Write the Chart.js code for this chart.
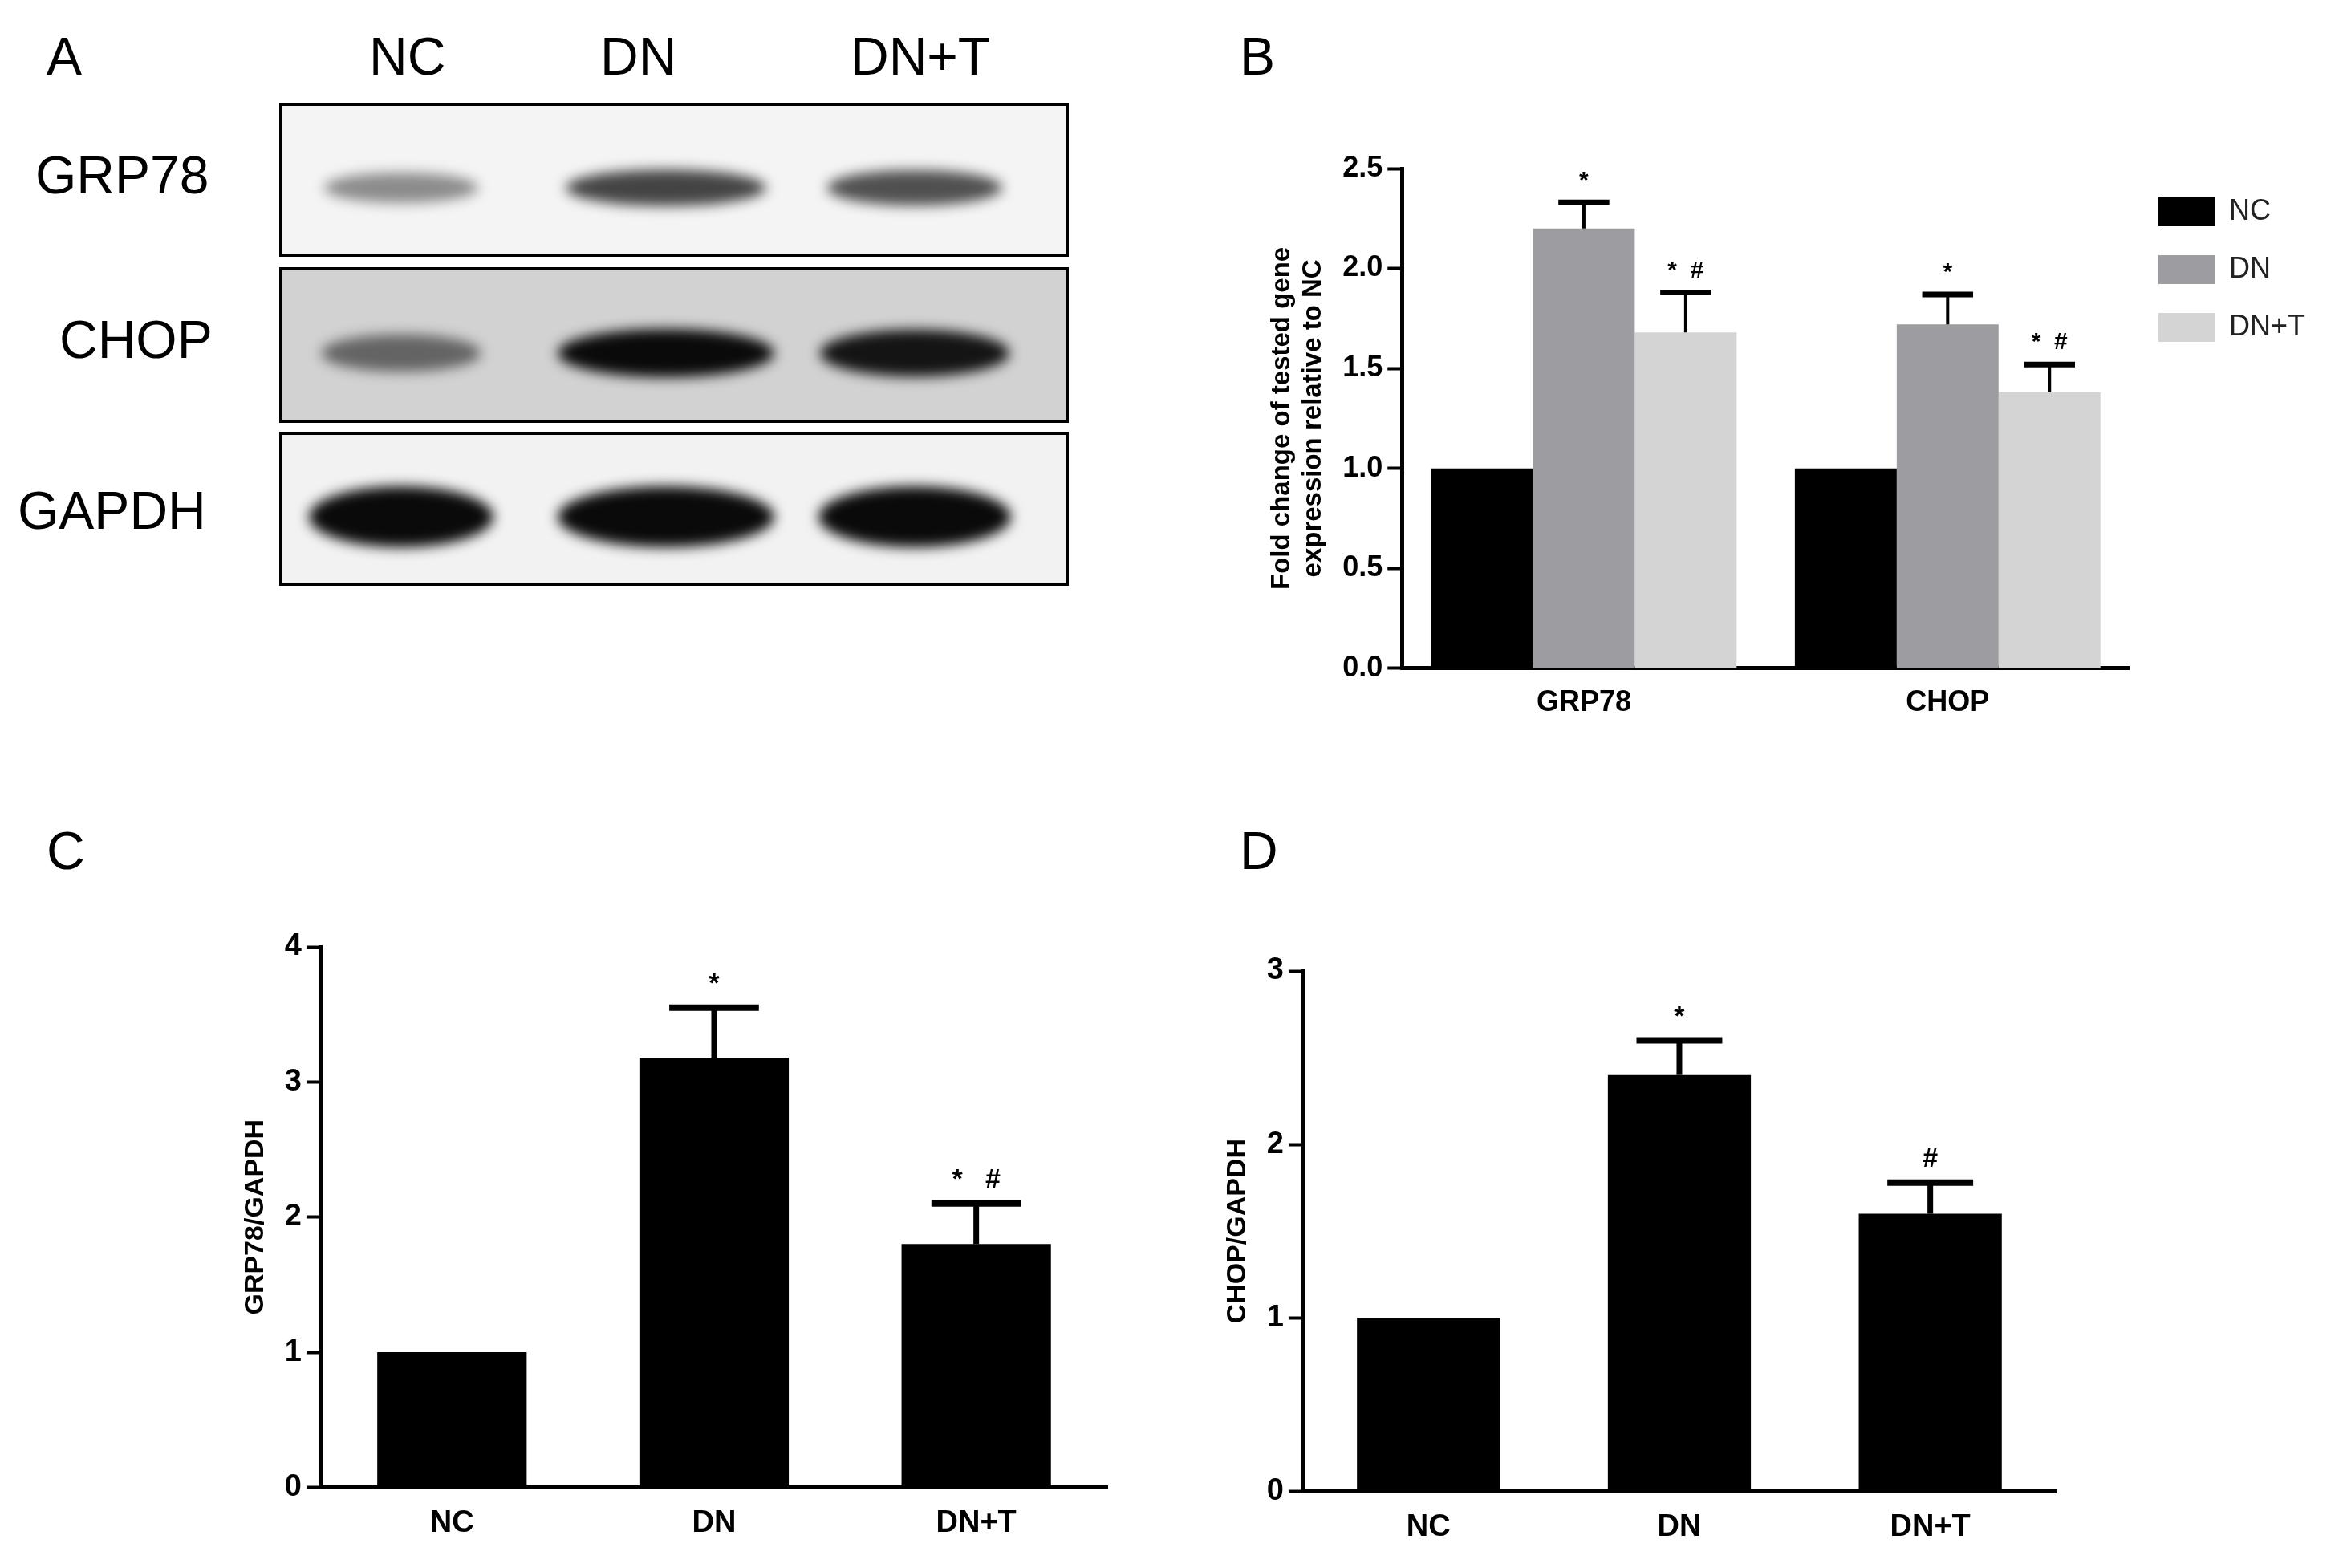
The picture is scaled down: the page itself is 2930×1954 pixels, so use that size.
<!DOCTYPE html>
<html><head><meta charset="utf-8">
<script src="https://cdn.jsdelivr.net/npm/chart.js@4"></script>
<style>
body{margin:0;width:2930px;height:1954px;background:#fff;position:relative;overflow:hidden;font-family:"Liberation Sans",Arial,sans-serif}
.lbl{position:absolute;font-size:66px;color:#000}
canvas{position:absolute}
</style></head><body>
<div class="lbl" style="left:58px;top:32px">A</div>
<div class="lbl" style="left:1545px;top:32px">B</div>
<div class="lbl" style="left:58px;top:1022px">C</div>
<div class="lbl" style="left:1545px;top:1022px">D</div>
<div class="lbl" style="left:460px;top:32px">NC</div>
<div class="lbl" style="left:748px;top:32px">DN</div>
<div class="lbl" style="left:1060px;top:32px">DN+T</div>
<div class="lbl" style="left:44px;top:180px">GRP78</div>
<div class="lbl" style="left:74px;top:385px">CHOP</div>
<div class="lbl" style="left:22px;top:598px">GAPDH</div>
<canvas id="blot" width="1000" height="620" style="left:340px;top:120px"></canvas>
<canvas id="chartB" width="1325" height="722" style="left:1568px;top:180px"></canvas>
<canvas id="chartC" width="1112" height="775" style="left:288px;top:1150px"></canvas>
<canvas id="chartD" width="1070" height="750" style="left:1512px;top:1180px"></canvas>
<script>
// panel B
const genes = ["GRP78", "CHOP"];
const groups = ["NC", "DN", "DN+T"];
const foldNC = [1.0, 1.0];
const foldDN = [2.2, 1.72];
const foldDNT = [1.68, 1.38];
const errNC = [0, 0];
const errDN = [0.13, 0.15];
const errDNT = [0.2, 0.14];
const marksDN = ["*", "*"];
const marksDNT = ["*  #", "*  #"];
// panel C
const grpRatio = [1.0, 3.18, 1.8];
const grpErr = [0, 0.37, 0.3];
const grpMarks = ["", "*", "*   #"];
// panel D
const chopRatio = [1.0, 2.4, 1.6];
const chopErr = [0, 0.2, 0.18];
const chopMarks = ["", "*", "#"];
// blot band intensities (lanes NC, DN, DN+T)
const bandGRP78 = [0.45, 0.75, 0.7];
const bandCHOP = [0.55, 1.0, 0.95];
const bandGAPDH = [1.0, 1.0, 1.0];

Chart.defaults.font.family = '"Liberation Sans", Arial, sans-serif';
Chart.defaults.color = "#000";

// western blot panel, just painted
(function () {
  const ctx = document.getElementById("blot").getContext("2d");
  const boxes = [[10, 10, 980, 188, "#f4f4f4", bandGRP78, 26], [10, 215, 980, 190, "#d2d2d2", bandCHOP, 30], [10, 420, 980, 188, "#f2f2f2", bandGAPDH, 38]];
  const lanes = [160, 490, 800];
  const widths = [230, 270, 240];
  boxes.forEach(([x, y, w, h, bg, band, bh]) => {
    ctx.fillStyle = bg;
    ctx.fillRect(x, y, w, h);
    ctx.save();
    ctx.filter = "blur(8px)";
    band.forEach((a, i) => {
      ctx.fillStyle = "rgba(10,10,10," + a + ")";
      ctx.beginPath();
      ctx.ellipse(lanes[i], y + h / 2 + 10, widths[i] / 2 * (0.7 + a * 0.3), bh * (0.5 + a * 0.5), 0, 0, Math.PI * 2);
      ctx.fill();
    });
    ctx.restore();
    ctx.lineWidth = 4;
    ctx.strokeStyle = "#000";
    ctx.strokeRect(x, y, w, h);
  });
})();

const errorBars = {
  id: "errorBars",
  afterDatasetsDraw(chart) {
    const ctx = chart.ctx;
    const y = chart.scales.y;
    chart.data.datasets.forEach((ds, di) => {
      const meta = chart.getDatasetMeta(di);
      meta.data.forEach((bar, i) => {
        const e = ds.errors[i];
        const top = y.getPixelForValue(ds.data[i] + e);
        const cap = bar.width * ds.capFrac;
        ctx.save();
        ctx.strokeStyle = "#000";
        if (e > 0) {
          ctx.lineWidth = ds.errWidth;
          ctx.beginPath();
          ctx.moveTo(bar.x, bar.y);
          ctx.lineTo(bar.x, top);
          ctx.stroke();
          ctx.lineWidth = ds.capWidth;
          ctx.beginPath();
          ctx.moveTo(bar.x - cap / 2, top);
          ctx.lineTo(bar.x + cap / 2, top);
          ctx.stroke();
        }
        if (ds.marks[i]) {
          ctx.fillStyle = "#000";
          ctx.font = ds.markFont;
          ctx.textAlign = "center";
          ctx.textBaseline = "bottom";
          ctx.fillText(ds.marks[i], bar.x, top - 12);
        }
        ctx.restore();
      });
    });
  }
};

function axisOpts(min, max, step, title, tickSize, titleSize) {
  return {
    x: {
      grid: { display: false, drawOnChartArea: false, tickLength: 18, tickWidth: 4, tickColor: "#000" },
      border: { color: "#000", width: 5 },
      ticks: { font: { size: tickSize, weight: "bold" }, padding: 4 }
    },
    y: {
      min: min, max: max,
      grid: { drawOnChartArea: false, tickLength: 18, tickWidth: 4, tickColor: "#000" },
      border: { color: "#000", width: 5 },
      ticks: { stepSize: step, font: { size: tickSize, weight: "bold" }, padding: 6,
        callback: v => step < 1 ? v.toFixed(1) : v },
      title: { display: true, text: title, font: { size: titleSize, weight: "bold" }, padding: 10 }
    }
  };
}

new Chart(document.getElementById("chartB"), {
  type: "bar",
  data: {
    labels: genes,
    datasets: [
      { label: groups[0], data: foldNC, errors: errNC, marks: ["", ""], backgroundColor: "#000000" },
      { label: groups[1], data: foldDN, errors: errDN, marks: marksDN, backgroundColor: "#9d9ca1" },
      { label: groups[2], data: foldDNT, errors: errDNT, marks: marksDNT, backgroundColor: "#d4d4d4" }
    ].map(d => Object.assign(d, { capFrac: 0.5, errWidth: 4, capWidth: 7, markFont: "bold 30px 'Liberation Sans'", categoryPercentage: 0.84, barPercentage: 1 }))
  },
  options: {
    responsive: false, animation: false,
    layout: { padding: { top: 30, right: 10, left: 0, bottom: 0 } },
    plugins: {
      legend: { position: "right", align: "start",
        labels: { boxWidth: 70, boxHeight: 36, padding: 36, font: { size: 36 }, color: "#222" } },
      tooltip: { enabled: false }
    },
    scales: axisOpts(0, 2.5, 0.5, ["Fold change of tested gene", "expression relative to NC"], 36, 33)
  },
  plugins: [errorBars]
});

function single(id, values, errs, marks, max, title) {
  new Chart(document.getElementById(id), {
    type: "bar",
    data: {
      labels: groups,
      datasets: [{ data: values, errors: errs, marks: marks, backgroundColor: "#000",
        capFrac: 0.6, errWidth: 7, capWidth: 8, markFont: "bold 34px 'Liberation Sans'",
        categoryPercentage: 1, barPercentage: 0.57 }]
    },
    options: {
      responsive: false, animation: false,
      layout: { padding: { top: 30, right: 20 } },
      plugins: { legend: { display: false }, tooltip: { enabled: false } },
      scales: axisOpts(0, max, 1, title, 38, 34)
    },
    plugins: [errorBars]
  });
}
single("chartC", grpRatio, grpErr, grpMarks, 4, "GRP78/GAPDH");
single("chartD", chopRatio, chopErr, chopMarks, 3, "CHOP/GAPDH");
</script>
</body></html>
